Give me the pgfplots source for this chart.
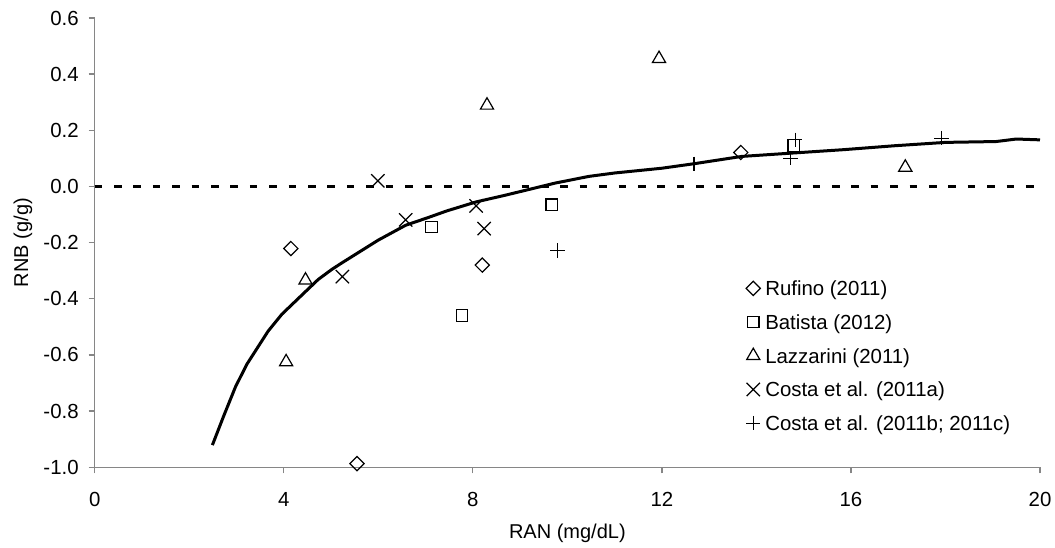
\documentclass[border=0pt]{standalone}
\usepackage{pgfplots}
\pgfplotsset{compat=1.18}
\usepackage{fontspec}
\setmainfont{Liberation Sans}
\definecolor{axgray}{RGB}{134,134,134}
\newcommand{\chartfont}{\fontsize{10.2}{12}\selectfont}

\begin{document}
\begin{tikzpicture}
  \begin{axis}[
    name=ax,
    scale only axis,
    width=472.65pt, height=224.65pt,
    xmin=0, xmax=20, ymin=-1, ymax=0.6,
    xtick={0,4,8,12,16,20},
    ytick={-1,-0.8,-0.6,-0.4,-0.2,0,0.2,0.4,0.6},
    axis lines*=left,
    axis line style={axgray, line width=0.65pt},
    tick style={axgray, line width=0.65pt},
    major tick length=3pt,
    tick align=outside,
    xticklabel shift=6pt,
    yticklabel shift=1.5pt,
    /pgf/number format/assume math mode=true,
    yticklabel style={/pgf/number format/.cd, fixed, fixed zerofill, precision=1},
    tick label style={font=\chartfont, black},
    label style={font=\chartfont, inner sep=0pt},
    xlabel={RAN (mg/dL)},
    ylabel={RNB (g/g)},
    every axis x label/.style={at={(axis description cs:0.5,-0.1462)}, anchor=center},
    every axis y label/.style={at={(axis description cs:-0.0758,0.5)}, anchor=center, rotate=90},
    clip=false,
    legend style={draw=none, fill=none, font=\chartfont,
      at={(axis description cs:0.6823,0.4318)}, anchor=north west,
      row sep=3.85pt,
      nodes={inner sep=0pt, text height=9pt, text depth=4pt}},
    legend cell align=left,
    legend image code/.code={%
      \path[draw=none, fill=none] (0pt,1.15pt) -- (9.5pt,1.15pt);
      \draw[/tikz/only marks] plot coordinates {(3.5pt,1.15pt)};},
  ]
    % reference line at zero
    \addplot[black, line width=1.6pt, dash pattern=on 3.8pt off 5.9pt, forget plot]
      coordinates {(0,0) (20,0)};

    % fitted curve
    \addplot[black, line width=1.5pt, forget plot] coordinates {
      (2.49,-0.921) (2.73,-0.817) (2.98,-0.713) (3.22,-0.633) (3.67,-0.515)
      (3.96,-0.455) (4.40,-0.384) (4.73,-0.331) (5.02,-0.295) (5.24,-0.271)
      (6.00,-0.191) (6.58,-0.138) (7.05,-0.111) (7.45,-0.087) (8.07,-0.055)
      (8.69,-0.031) (9.35,-0.004) (9.74,0.012) (10.46,0.036) (11.0,0.048)
      (12.0,0.065) (12.68,0.081) (13.69,0.107) (14.76,0.119) (15.84,0.131)
      (16.92,0.145) (18.0,0.157) (19.07,0.160) (19.5,0.169) (20.0,0.166)
    };

    \addplot[only marks, black, mark=square, mark size=2.5pt,
      mark options={rotate=45, line width=0.6pt}] coordinates {
      (4.15,-0.221) (8.20,-0.280) (5.55,-0.987) (13.67,0.121)
    };
    \addlegendentry{Rufino (2011)}

    \addplot[only marks, black, mark=square, mark size=2.9pt,
      mark options={line width=0.6pt}] coordinates {
      (7.13,-0.144) (7.77,-0.459) (9.67,-0.065) (14.79,0.146)
    };
    \addlegendentry{Batista (2012)}

    \addplot[only marks, black, mark=triangle, mark size=3.8pt,
      mark options={line width=0.6pt}] coordinates {
      (8.30,0.289) (4.46,-0.334) (4.05,-0.625) (11.94,0.455) (17.15,0.068)
    };
    \addlegendentry{Lazzarini (2011)}

    \addplot[only marks, black, mark=x, mark size=4.7pt,
      mark options={line width=0.6pt}] coordinates {
      (5.99,0.020) (6.58,-0.119) (8.07,-0.069) (8.24,-0.150) (5.24,-0.321)
    };
    \addlegendentry{Costa et al. (2011a)}

    \addplot[only marks, black, mark=+, mark size=3.6pt,
      mark options={line width=0.6pt}] coordinates {
      (12.68,0.081) (14.82,0.166) (14.72,0.101) (17.92,0.172) (9.79,-0.228)
    };
    \addlegendentry{Costa et al. (2011b; 2011c)}
  \end{axis}
  \pgfresetboundingbox
  \path ([xshift=-47.35pt,yshift=-40.35pt]ax.south west)
    rectangle ([xshift=7.5pt,yshift=9pt]ax.north east);
\end{tikzpicture}
\end{document}
